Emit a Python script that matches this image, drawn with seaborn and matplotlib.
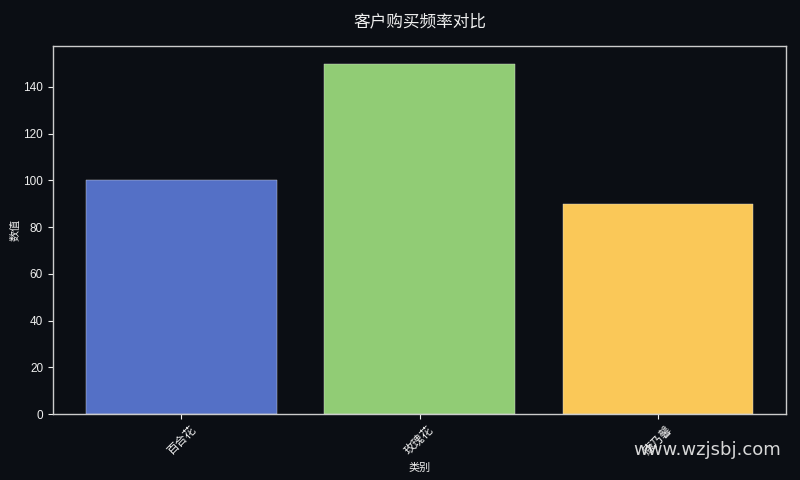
import matplotlib
matplotlib.use("Agg")
import matplotlib.pyplot as plt
import seaborn as sns
import pandas as pd

categories = ["百合花", "玫瑰花", "康乃馨"]
values = [100, 150, 90]
colors = ["#5470c6", "#91cc75", "#fac858"]

sns.set_theme(style="dark")
bg = "#0b0e14"
plt.rcParams['font.family'] = ['Liberation Sans', 'Noto Sans CJK SC', 'DejaVu Sans']
plt.rcParams.update({
    "figure.facecolor": bg, "axes.facecolor": bg, "savefig.facecolor": bg,
    "axes.edgecolor": "#cccccc", "text.color": "#eeeeee",
    "axes.labelcolor": "#eeeeee", "xtick.color": "#eeeeee", "ytick.color": "#eeeeee",
    "axes.grid": False,
})

df = pd.DataFrame({"类别": categories, "数值": values})
fig, ax = plt.subplots(figsize=(8, 4.8), dpi=100)
fig.subplots_adjust(left=0.066, right=0.983, top=0.904, bottom=0.137)
sns.barplot(data=df, x="类别", y="数值", hue="类别", palette=colors, legend=False,
            width=0.8, saturation=1, ax=ax, edgecolor="#dddddd", linewidth=0.3)
ax.set_xlim(-0.54, 2.54)
ax.set_ylim(0, 157.5)
ax.tick_params(axis="both", which="both", length=3.5, width=0.8, labelsize=8.5,
               bottom=True, left=True, colors="#eeeeee")
for s in ax.spines.values():
    s.set_color("#cccccc")
    s.set_linewidth(1)
plt.setp(ax.get_xticklabels(), rotation=45)
ax.set_xlabel("类别", fontsize=8)
ax.set_ylabel("数值", fontsize=8, labelpad=2)
ax.set_title("客户购买频率对比", fontsize=12, pad=14, color="#eeeeee")
fig.text(0.792, 0.052, "www.wzjsbj.com", fontsize=13, color="#eeeeee",
         family=['DejaVu Sans'], alpha=0.9)
fig.savefig("out.png", dpi=100)
